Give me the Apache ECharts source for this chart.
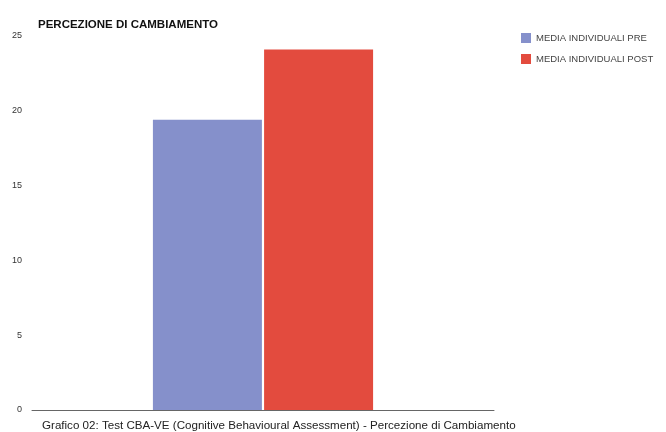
<!DOCTYPE html>
<html>
<head>
<meta charset="utf-8">
<script src="https://cdn.jsdelivr.net/npm/echarts@6/dist/echarts.min.js"></script>
<style>
  html, body { margin: 0; padding: 0; background: #fff; }
  #chart { width: 666px; height: 432px; }
</style>
</head>
<body>
<div id="chart"></div>
<script>
// dati
var categories = ['Percezione di Cambiamento'];
var seriesNames = ['MEDIA INDIVIDUALI PRE', 'MEDIA INDIVIDUALI POST'];
var preValues = [19.4];
var postValues = [24.1];
var yTicks = [0, 5, 10, 15, 20, 25];

var chart = echarts.init(document.getElementById('chart'));
var option = {
    backgroundColor: '#ffffff',
    textStyle: { fontFamily: 'Liberation Sans, Arial, sans-serif' },
    title: [{
        text: 'PERCEZIONE DI CAMBIAMENTO',
        left: 38,
        top: 19,
        padding: 0,
        textStyle: { fontSize: 11.5, fontWeight: 'bold', color: '#111' }
    }, {
        text: 'Grafico 02: Test CBA-VE (Cognitive Behavioural Assessment) - Percezione di Cambiamento',
        left: 42,
        top: 420,
        padding: 0,
        textStyle: { fontSize: 11.6, fontWeight: 'normal', color: '#222' }
    }],
    legend: {
        orient: 'vertical',
        left: 516,
        top: 28,
        itemWidth: 10,
        itemHeight: 10,
        itemGap: 11,
        icon: 'rect',
        data: seriesNames,
        textStyle: { fontSize: 9.5, color: '#444' }
    },
    grid: {
        left: 32,
        right: 172,
        top: 36,
        bottom: 22,
        containLabel: false
    },
    xAxis: {
        type: 'category',
        data: categories,
        axisLine: { show: true, lineStyle: { color: '#666', width: 1 } },
        axisTick: { show: false },
        axisLabel: { show: false }
    },
    yAxis: {
        type: 'value',
        min: yTicks[0],
        max: yTicks[yTicks.length - 1],
        interval: 5,
        axisLine: { show: false },
        axisTick: { show: false },
        splitLine: { show: false },
        axisLabel: { fontSize: 9, color: '#333', margin: 10 }
    },
    series: [{
        name: seriesNames[0],
        type: 'bar',
        data: preValues,
        barWidth: 109,
        barGap: '2%',
        itemStyle: { color: '#8590CB' }
    }, {
        name: seriesNames[1],
        type: 'bar',
        data: postValues,
        barWidth: 109,
        barGap: '2%',
        itemStyle: { color: '#E34B3E' }
    }]
};
chart.setOption(option);
</script>
</body>
</html>
